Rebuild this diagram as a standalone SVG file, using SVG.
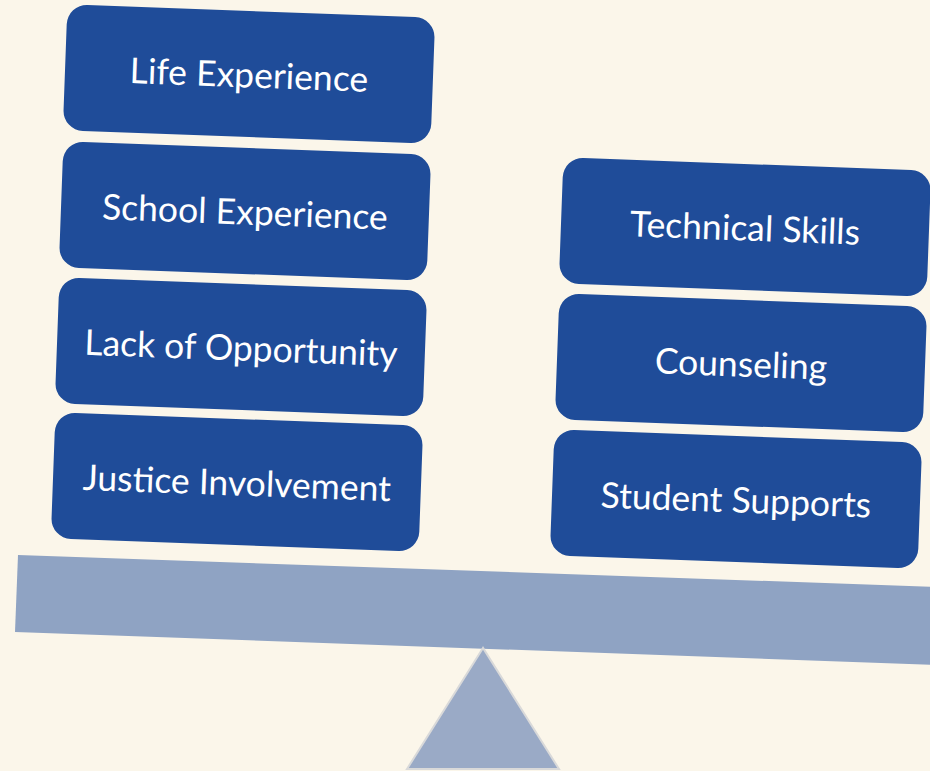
<svg xmlns="http://www.w3.org/2000/svg" width="930" height="771" viewBox="0 0 930 771">
<style>
.box{fill:#1F4C99;}
.lbl{fill:#FFFFFF;font-family:Lato,"Open Sans","Liberation Sans",sans-serif;font-size:35.5px;text-anchor:middle;dominant-baseline:central;}
</style>
<rect x="0" y="0" width="930" height="771" fill="#FBF6EA"/>
<g id="beam">
<polygon points="18,555 940,587 940,665 15,632" fill="#8FA3C3"/>
</g>
<g id="fulcrum">
<polygon points="483,648 407,769 559,769" fill="#9AAAC6" stroke="#D9D9D9" stroke-width="2"/>
</g>
<g id="n-life" transform="translate(249,74) rotate(2.1)">
<rect class="box" x="-184" y="-63" width="368" height="126" rx="20"/>
<text class="lbl" x="0" y="0">Life Experience</text>
</g>
<g id="n-school" transform="translate(245,211) rotate(2.1)">
<rect class="box" x="-184" y="-63" width="368" height="126" rx="20"/>
<text class="lbl" x="0" y="0">School Experience</text>
</g>
<g id="n-lack" transform="translate(241,347) rotate(2.1)">
<rect class="box" x="-184" y="-63" width="368" height="126" rx="20"/>
<text class="lbl" x="0" y="0">Lack of Opportunity</text>
</g>
<g id="n-justice" transform="translate(237,482) rotate(2.1)">
<rect class="box" x="-184" y="-63" width="368" height="126" rx="20"/>
<text class="lbl" x="0" y="0">Justice Involvement</text>
</g>
<g id="n-technical" transform="translate(745,227) rotate(2.1)">
<rect class="box" x="-184" y="-63" width="368" height="126" rx="20"/>
<text class="lbl" x="0" y="0">Technical Skills</text>
</g>
<g id="n-counseling" transform="translate(741,363) rotate(2.1)">
<rect class="box" x="-184" y="-63" width="368" height="126" rx="20"/>
<text class="lbl" x="0" y="0">Counseling</text>
</g>
<g id="n-student" transform="translate(736,499) rotate(2.1)">
<rect class="box" x="-184" y="-63" width="368" height="126" rx="20"/>
<text class="lbl" x="0" y="0">Student Supports</text>
</g>
<g id="connectors"/>
</svg>
